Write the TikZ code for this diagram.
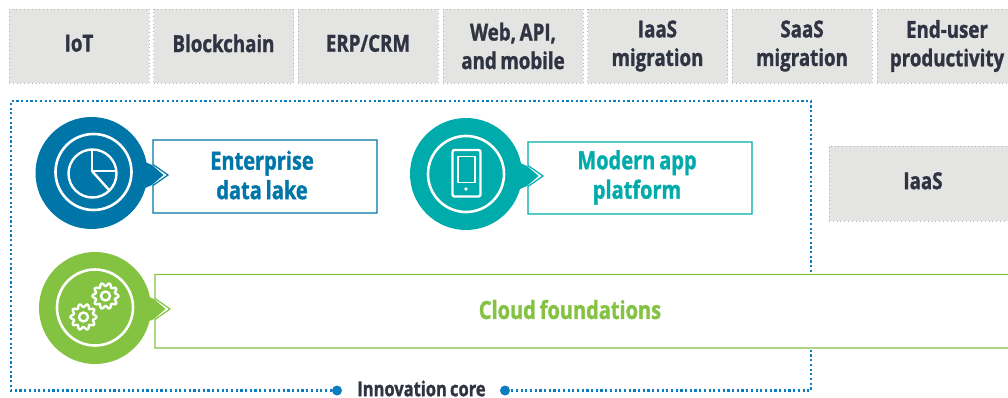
\documentclass[tikz,border=0pt]{standalone}
\usepackage{fontspec}
\setmainfont[FakeStretch=0.8, WordSpace=0.75, BoldFeatures={FakeBold=1.2}]{Open Sans}
\definecolor{corebl}{HTML}{0076A8}
\definecolor{dotbl}{HTML}{0A7DBE}
\definecolor{tealc}{HTML}{00ABAB}
\definecolor{greenc}{HTML}{84C341}
\definecolor{greybx}{HTML}{E4E4E2}
\definecolor{inkc}{HTML}{2F3342}
\tikzset{
	layerbox/.style={draw=black!30, fill=greybx, dash pattern=on 0.8pt off 3pt, line width=0.7pt, inner sep=0pt, text width=140pt, minimum height=74pt, align=flush center, text=inkc, font=\fontsize{23.4}{28.5}\selectfont\bfseries},
	bubble/.style={circle, inner sep=0pt, minimum size=112pt},
	calltext/.style={align=flush center, font=\fontsize{25}{29.5}\selectfont\bfseries},
	coredot/.style={circle, fill=dotbl, inner sep=0pt, minimum size=10pt},
	iconline/.style={draw=white, line width=2.2pt, line join=round}
}
\begin{document}
\begin{tikzpicture}[x=1pt, y=-1pt]
\useasboundingbox (0,0) rectangle (1008,398);

% top row of layers
\foreach \s/\x/\txt in {1/79/IoT\vphantom{g}, 2/223.5/Blockchain\vphantom{g}, 3/368/{ERP/CRM\vphantom{g}}, 4/513/{Web, API,\\and mobile}, 5/657.5/{IaaS\\migration}, 6/802/{SaaS\\migration}, 7/947/{End-user\\productivity}}
{
	\node[layerbox] (top\s) at (\x,46) {\txt};
}
\node[layerbox, text width=188pt, minimum height=75pt] (iaas) at (923,183.5) {IaaS\vphantom{g}};

% dotted frame of the core
\node[coredot] (dotleft) at (337,390.5) {};
\node[coredot] (dotright) at (505,390.5) {};
\node[inner sep=0pt, text=inkc, font=\fontsize{20.6}{24}\selectfont\bfseries] (corelabel) at (421.5,388.5) {Innovation core};
\coordinate (cornerbl) at (11,390.5);
\coordinate (cornertl) at (11,101);
\coordinate (cornertr) at (811,101);
\coordinate (cornerbr) at (811,390.5);
\draw[dotbl, line width=2.2pt, dash pattern=on 2.2pt off 2.5pt] (dotleft) -- (cornerbl) -- (cornertl) -- (cornertr) -- (cornerbr) -- (dotright);

% circle and notched box of each block
\foreach \n/\cx/\cy/\col/\left/\right/\top/\bot/\ty in {lake/91.5/173/corebl/153/377/140/213/175, app/466/174/tealc/528/752/142/214/176, cloud/95/308/greenc/155/1030/274.5/348/309}
{
	\draw[\col, line width=1.2pt, fill=white] (\left,\top) -- (\right,\top) -- (\right,\bot) -- (\left,\bot) -- (\left,\ty+10.5) -- (\left+15,\ty) -- (\left,\ty-10.5) -- cycle;
	\fill[\col] (\left-8,\ty-13) -- (\left-1,\ty-10) -- (\left+10.5,\ty) -- (\left-1,\ty+10) -- (\left-8,\ty+13) -- cycle;
	\node[bubble, fill=\col] (\n) at (\cx,\cy) {};
}
\node[calltext, text=corebl] (laketext) at (262,175) {Enterprise\\data lake};
\node[calltext, text=tealc] (apptext) at (637,177.5) {Modern app\\platform};
\node[calltext, text=greenc] (cloudtext) at (570,309.5) {Cloud foundations};

% white rings
\draw[iconline, line width=2.6pt] (93.5,172) circle (38);
\draw[iconline, line width=2.6pt] (466,174) circle (38);
\draw[iconline, line width=2.6pt] (95,307.5) circle (38);

% pie icon
\draw[iconline, line width=2.4pt] (92.5,173.5) circle (24);
\draw[iconline, line width=2.4pt] (92,150) -- (92,171) -- (116,171);
\draw[iconline, line width=2.4pt] (92,171) -- (109,190);

% phone icon
\draw[iconline, line width=2.4pt, rounded corners=2pt] (452.5,150) rectangle (480.5,196.5);
\draw[iconline, line width=1.8pt] (458,156.5) rectangle (475,182.5);
\fill[white] (466,189) circle (1.8);

% gear icons
\foreach \gx/\gy in {105.5/296, 83.5/317}
{
	\begin{scope}[shift={(\gx,\gy)}]
		\draw[iconline, line width=2.4pt] plot[domain=0:360, samples=81] (\x:{11.5+1.6*cos(10*\x)}) -- cycle;
		\draw[iconline, line width=2.4pt] (0,0) circle (4.5);
	\end{scope}
}
\end{tikzpicture}
\end{document}
